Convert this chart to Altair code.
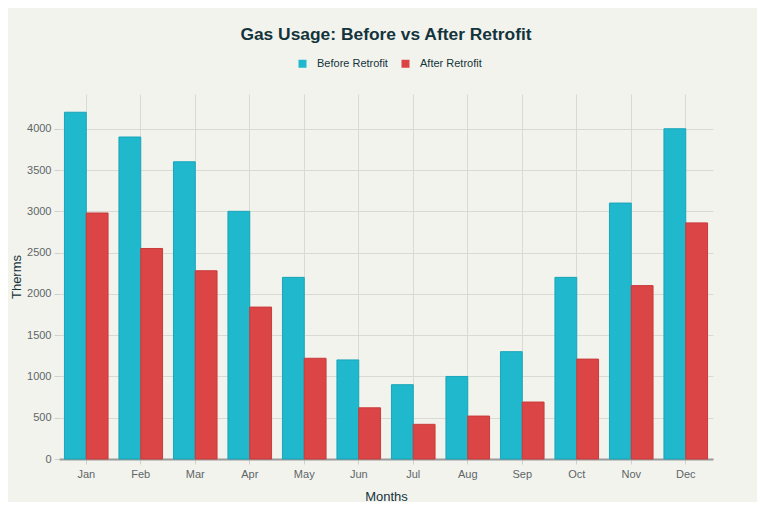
import altair as alt
import pandas as pd

months = ["Jan", "Feb", "Mar", "Apr", "May", "Jun", "Jul", "Aug", "Sep", "Oct", "Nov", "Dec"]
before = [4200, 3900, 3600, 3000, 2200, 1200, 900, 1000, 1300, 2200, 3100, 4000]
after = [2980, 2550, 2280, 1840, 1220, 620, 420, 520, 690, 1210, 2100, 2860]
series = ["Before Retrofit", "After Retrofit"]
colors = ["#1FB8CD", "#DB4545"]
strokes = ["#19A5B8", "#C93B3B"]
y_ticks = [0, 500, 1000, 1500, 2000, 2500, 3000, 3500, 4000]

rows = []
for m, b, a in zip(months, before, after):
    rows.append({"Month": m, "Series": series[0], "Therms": b})
    rows.append({"Month": m, "Series": series[1], "Therms": a})
df = pd.DataFrame(rows)

FONT = "Liberation Sans"
W, H = 654, 365

chart = alt.Chart(df).mark_bar(strokeWidth=1).encode(
    x=alt.X("Month:N", sort=months,
            scale=alt.Scale(paddingInner=0.2, paddingOuter=0.1),
            axis=alt.Axis(title="Months", labelAngle=0, grid=True, bandPosition=0.5,
                          gridColor="#DADAD4", domainColor="#9A9A9A", domainWidth=2,
                          tickColor="#D0D0CC", tickSize=5, labelPadding=4,
                          labelColor="#5E6668", labelFontSize=11, labelFont=FONT,
                          titleColor="#13343B", titleFontSize=13, titleFont=FONT,
                          titleFontWeight="normal", titleX=W / 2, titleY=37,
                          titleBaseline="middle")),
    xOffset=alt.XOffset("Series:N", sort=series,
                        scale=alt.Scale(paddingInner=0, paddingOuter=0)),
    y=alt.Y("Therms:Q", scale=alt.Scale(domain=[0, 4421], nice=False, zero=True),
            axis=alt.Axis(title="Therms", values=y_ticks, format="d", grid=True,
                          gridColor="#DADAD4",
                          domain=False, tickColor="#D0D0CC", tickSize=5, labelPadding=3,
                          labelColor="#5E6668", labelFontSize=11, labelFont=FONT,
                          titleColor="#13343B", titleFontSize=13, titleFont=FONT,
                          titleFontWeight="normal", titleX=-43, titleY=H / 2,
                          titleAngle=-90, titleBaseline="middle")),
    color=alt.Color("Series:N", sort=series,
                    scale=alt.Scale(domain=series, range=colors),
                    legend=alt.Legend(title=None, orient="none", direction="horizontal",
                                      legendX=238, legendY=-36, symbolType="square",
                                      symbolSize=64, symbolStrokeWidth=0, labelFont=FONT,
                                      labelFontSize=11, labelColor="#13343B",
                                      labelOffset=9, columnPadding=12, padding=0)),
    stroke=alt.Stroke("Series:N", sort=series,
                      scale=alt.Scale(domain=series, range=strokes), legend=None),
).properties(
    width=W, height=H,
    title=alt.Title("Gas Usage: Before vs After Retrofit", font=FONT, fontSize=17.4,
                    fontWeight="bold", color="#13343B", anchor="middle", offset=15),
    autosize=alt.AutoSizeParams(type="none"),
    padding={"left": 51, "top": 86, "right": 44, "bottom": 43},
    background="#F3F3EE",
).configure_view(stroke=None)

chart.save("out.html", embed_options={"renderer": "svg", "actions": False})
